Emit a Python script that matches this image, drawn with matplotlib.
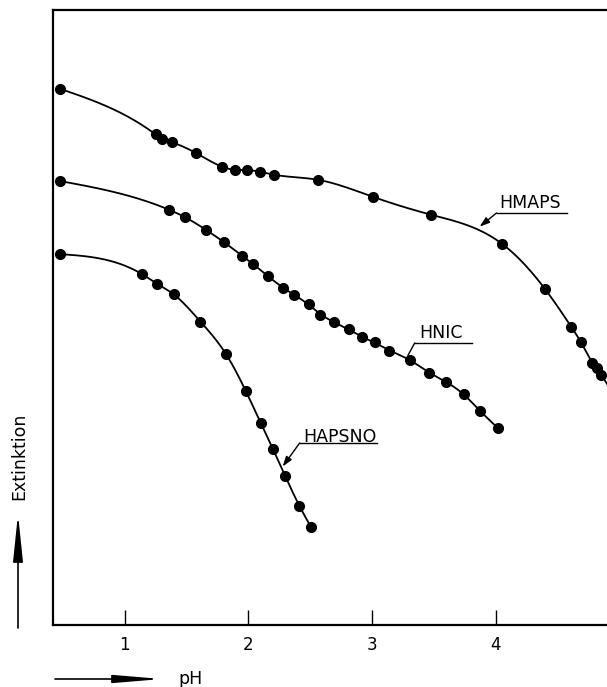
import numpy as np
import matplotlib
matplotlib.use('Agg')
import matplotlib.pyplot as plt
from matplotlib.patches import FancyArrowPatch

# (extinction in arbitrary units, 0..1 = axis height)
ph_hmaps = [0.475, 1.25, 1.30, 1.38, 1.58, 1.79, 1.89, 1.99, 2.09, 2.21,
            2.56, 3.01, 3.48, 4.05, 4.40, 4.61, 4.69, 4.78, 4.82, 4.85]
ext_hmaps = [0.872, 0.798, 0.790, 0.785, 0.767, 0.745, 0.740, 0.740, 0.737, 0.732,
             0.724, 0.696, 0.667, 0.620, 0.546, 0.485, 0.460, 0.426, 0.418, 0.407]

ph_hnic = [0.475, 1.36, 1.49, 1.66, 1.80, 1.95, 2.04, 2.16, 2.28, 2.37, 2.49,
           2.58, 2.69, 2.81, 2.92, 3.02, 3.14, 3.31, 3.46, 3.60, 3.74, 3.87, 4.02]
ext_hnic = [0.722, 0.675, 0.663, 0.642, 0.623, 0.600, 0.587, 0.567, 0.548, 0.537, 0.522,
            0.504, 0.493, 0.481, 0.468, 0.460, 0.446, 0.431, 0.410, 0.395, 0.376, 0.348, 0.320]

ph_hapsno = [0.48, 1.14, 1.26, 1.40, 1.61, 1.82, 1.98, 2.10, 2.20, 2.30, 2.41, 2.51]
ext_hapsno = [0.603, 0.571, 0.554, 0.538, 0.493, 0.441, 0.380, 0.328, 0.286, 0.242, 0.193, 0.159]

xticks = [1, 2, 3, 4]


def smooth_curve(x, y, x_end=None, lam=1e-4, n=400):
    # penalised least squares (smoothing spline style) on a fine grid
    x = np.asarray(x, float)
    y = np.asarray(y, float)
    x1 = x_end if x_end else x[-1]
    g = np.linspace(x[0], x1, n)
    h = g[1] - g[0]
    A = np.zeros((len(x), n))
    for i, xi in enumerate(x):
        j = min(int((xi - g[0]) / h), n - 2)
        t = (xi - g[j]) / h
        A[i, j] = 1 - t
        A[i, j + 1] = t
    D = np.diff(np.eye(n), 2, axis=0) / h**2
    f = np.linalg.solve(A.T @ A + lam * h * D.T @ D, A.T @ y)
    return g, f


fig = plt.figure(figsize=(6.07, 6.87), dpi=100)
ax = fig.add_axes([53 / 607, 1 - 625 / 687, 1 - 53 / 607, 615 / 687])
ax.set_xlim(0.42, 4.90)
ax.set_ylim(0, 1)

curves = {}
for name, ph, ext, x_end, lam in [('HMAPS', ph_hmaps, ext_hmaps, 4.92, 1e-5),
                                  ('HNIC', ph_hnic, ext_hnic, None, 1e-4),
                                  ('HAPSNO', ph_hapsno, ext_hapsno, None, 1e-4)]:
    xs, ys = smooth_curve(ph, ext, x_end, lam)
    curves[name] = (xs, ys)
    ax.plot(xs, ys, color='black', lw=1.3, zorder=2)
    ax.plot(ph, ext, 'o', color='black', ms=7, zorder=3)

# labels with underline and leader line
labels = [('HMAPS', 3.87, (4.03, 0.678), (4.007, 4.573, 0.670), True),
          ('HNIC', 3.29, (3.385, 0.467), (3.345, 3.805, 0.4585), False),
          ('HAPSNO', 2.277, (2.44, 0.298), (2.415, 3.037, 0.296), True)]
for name, tip_ph, txt, ul, head in labels:
    xs, ys = curves[name]
    tip = (tip_ph, np.interp(tip_ph, xs, ys) + 0.006)
    ax.text(txt[0], txt[1], name, fontsize=12.5, ha='left', va='baseline')
    ax.plot([ul[0], ul[1]], [ul[2], ul[2]], color='black', lw=1)
    ax.annotate('', xy=tip, xytext=(ul[0], ul[2]),
                arrowprops=dict(arrowstyle='-|>,head_length=0.6,head_width=0.2' if head else '-',
                                color='black', lw=1, shrinkA=0, shrinkB=0))

ax.spines['right'].set_visible(False)
for s in ['left', 'bottom', 'top']:
    ax.spines[s].set_linewidth(1.6)
ax.set_xticks(xticks)
ax.set_xticklabels([str(t) for t in xticks])
ax.set_yticks([])
ax.tick_params(axis='x', direction='in', length=11, width=1, labelsize=12, pad=8)

# axis captions with arrows
fig.text(178 / 607, 1 - 679 / 687, 'pH', fontsize=12.5, ha='left', va='center')
fig.text(19 / 607, 1 - 456 / 687, 'Extinktion', fontsize=12.5, rotation=90,
         ha='center', va='center')
fig.add_artist(FancyArrowPatch(
    (55 / 607, 1 - 679 / 687), (162 / 607, 1 - 679 / 687), transform=fig.transFigure,
    arrowstyle='-|>,head_length=2.4,head_width=0.2', mutation_scale=12,
    color='black', lw=1.2, shrinkA=0, shrinkB=0))
fig.add_artist(FancyArrowPatch(
    (18 / 607, 1 - 628 / 687), (18 / 607, 1 - 514 / 687), transform=fig.transFigure,
    arrowstyle='-|>,head_length=2.4,head_width=0.25', mutation_scale=12,
    color='black', lw=1.2, shrinkA=0, shrinkB=0))

fig.savefig('out.png', dpi=100)
